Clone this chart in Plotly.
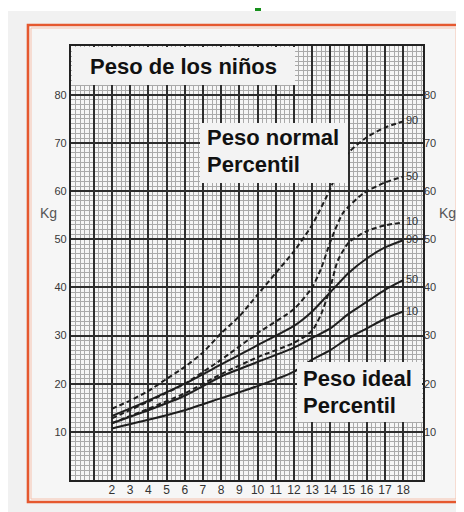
import plotly.graph_objects as go

# ---------------- data ----------------
x_tick_vals = list(range(1, 19))
x_tick_text = [""] + [str(v) for v in range(2, 19)]
y_tick_vals = [10, 20, 30, 40, 50, 60, 70, 80]
y_tick_text = [str(v) for v in y_tick_vals]

# "Peso normal" percentiles (dashed)
normal90_age = [2, 3, 4, 5, 6, 7, 8, 9, 10, 11, 12, 13, 14, 14.5, 15, 16, 17, 18]
normal90_kg = [14.8, 16.5, 18.5, 21, 23.5, 26.5, 30.5, 34, 38.5, 43, 47.5, 53, 60.5, 65, 68, 71.2, 73.2, 74.5]
normal50_age = [2, 4, 6, 8, 10, 12, 13, 13.5, 14, 14.7, 15.8, 17, 18]
normal50_kg = [12.8, 16.3, 20, 25, 30.5, 35.5, 40, 44, 49.5, 55.5, 59.5, 61.8, 63]
normal10_age = [2, 4, 6, 8, 10, 12, 13, 13.5, 14, 14.4, 15, 16, 17, 18]
normal10_kg = [11.8, 14.8, 18, 22, 25.5, 28.5, 31, 34.5, 40, 45.5, 49.3, 51.7, 52.9, 53.5]

# "Peso ideal" percentiles (solid)
ideal90_age = [2, 4, 6, 8, 10, 12, 13, 14, 15, 16, 17, 18]
ideal90_kg = [13.3, 16.5, 20, 24, 28, 32, 35, 39, 43, 46, 48.3, 49.8]
ideal50_age = [2, 4, 6, 8, 10, 12, 13, 14, 15, 16, 17, 18]
ideal50_kg = [11.8, 14.5, 17.5, 21.5, 24.5, 27.5, 29.5, 31.5, 34.5, 37, 39.5, 41.5]
ideal10_age = [2, 4, 6, 8, 10, 12, 13, 14, 15, 16, 17, 18]
ideal10_kg = [10.7, 12.5, 14.5, 17, 19.5, 22.5, 25, 27, 29.5, 31.5, 33.5, 35]

series = [
    ("90", normal90_age, normal90_kg, "dash"),
    ("50", normal50_age, normal50_kg, "dash"),
    ("10", normal10_age, normal10_kg, "dash"),
    ("90", ideal90_age, ideal90_kg, "solid"),
    ("50", ideal50_age, ideal50_kg, "solid"),
    ("10", ideal10_age, ideal10_kg, "solid"),
]

# ---------------- layout helpers ----------------
OFF = 8  # page body margin
W, H = 464 - OFF, 512 - OFF
PL, PR, PT, PB = 71, 423, 46, 480  # plot area in window pixels


def px(xp):
    return (xp - PL) / (PR - PL)


def py(yp):
    return (PB - yp) / (PB - PT)


fig = go.Figure()
for name, ages, kgs, dash in series:
    fig.add_trace(go.Scatter(
        x=ages, y=kgs, mode="lines", name=name,
        line=dict(color="#1e1e1e", width=2.0,
                  dash="5px,3px" if dash == "dash" else "solid",
                  shape="spline", smoothing=0.6),
        hoverinfo="skip", showlegend=False,
    ))
    fig.add_annotation(x=ages[-1], y=kgs[-1], text=name, showarrow=False,
                       xanchor="left", xshift=1, yshift=1,
                       font=dict(family="Liberation Sans, Arial", size=11, color="#333"))

# dummy trace for right axis
fig.add_trace(go.Scatter(x=[None], y=[None], yaxis="y2", showlegend=False, hoverinfo="skip"))

axis_font = dict(family="Liberation Sans, Arial", size=11, color="#383838")

fig.update_layout(
    width=W, height=H,
    margin=dict(l=PL - OFF, r=W - (PR - OFF), t=PT - OFF, b=H - (PB - OFF), pad=0),
    paper_bgcolor="#ffffff",
    plot_bgcolor="#d6d6d6",
    xaxis=dict(range=[-0.25, 19.09], tickvals=x_tick_vals, ticktext=x_tick_text,
               showgrid=True, gridcolor="#2e2e2e", gridwidth=1.6,
               minor=dict(dtick=0.25, tick0=0, showgrid=True, gridcolor="#aaaaaa", gridwidth=0.7),
               zeroline=False, showline=True, linecolor="#222", linewidth=2.2, mirror=True,
               ticks="", ticklabelstandoff=-3,
               tickfont=dict(family="Liberation Sans, Arial", size=12, color="#333"),
               fixedrange=True),
    yaxis=dict(range=[0, 90.15], tickvals=y_tick_vals, ticktext=y_tick_text,
               showgrid=True, gridcolor="#2e2e2e", gridwidth=1.6,
               minor=dict(dtick=1, tick0=0, showgrid=True, gridcolor="#aaaaaa", gridwidth=0.7),
               zeroline=False, showline=True, linecolor="#222", linewidth=2.2, mirror=True,
               ticks="", tickfont=axis_font, fixedrange=True),
    yaxis2=dict(range=[0, 90.15], tickvals=y_tick_vals, ticktext=y_tick_text,
                overlaying="y", side="right", showgrid=False, zeroline=False,
                ticks="", tickfont=axis_font, fixedrange=True),
)

shapes = []
# outer light gray scan area
shapes.append(dict(type="rect", xref="paper", yref="paper", layer="below",
                   x0=px(7), x1=px(470), y0=py(11), y1=py(520),
                   fillcolor="#f1f1f1", line=dict(width=0)))
# inner area
shapes.append(dict(type="rect", xref="paper", yref="paper", layer="below",
                   x0=px(29), x1=px(458), y0=py(26), y1=py(501),
                   fillcolor="#f6f6f6", line=dict(width=0)))
# orange frame
shapes.append(dict(type="rect", xref="paper", yref="paper", layer="below",
                   x0=px(28), x1=px(459), y0=py(25), y1=py(502),
                   fillcolor="rgba(0,0,0,0)", line=dict(color="#e5582f", width=2.6)))
shapes.append(dict(type="rect", xref="paper", yref="paper", layer="below",
                   x0=px(31), x1=px(456), y0=py(28), y1=py(499),
                   fillcolor="rgba(0,0,0,0)", line=dict(color="#f6c2ae", width=1)))
# green mark at the top
shapes.append(dict(type="rect", xref="paper", yref="paper", layer="below",
                   x0=px(255), x1=px(261), y0=py(0), y1=py(11),
                   fillcolor="#17901c", line=dict(width=0)))
# white label boxes over the grid
for (x0, x1, y0, y1) in [(72, 295, 47, 85), (200, 348, 123, 183), (297, 422, 362, 422)]:
    shapes.append(dict(type="rect", xref="paper", yref="paper", layer="above",
                       x0=px(x0), x1=px(x1), y0=py(y0), y1=py(y1),
                       fillcolor="#f3f3f3", line=dict(width=0)))
fig.update_layout(shapes=shapes)

title_font = dict(family="Liberation Sans, Arial", size=22, color="#111")
box_font = dict(family="Liberation Sans, Arial", size=22, color="#111")
texts = [
    ("<b>Peso de los niños</b>", 88, 66, title_font),
    ("<b>Peso normal</b>", 205, 137, box_font),
    ("<b>Percentil</b>", 205, 164, box_font),
    ("<b>Peso ideal</b>", 301, 378, box_font),
    ("<b>Percentil</b>", 301, 405, box_font),
]
for t, xp, yp, f in texts:
    fig.add_annotation(xref="paper", yref="paper", x=px(xp), y=py(yp), text=t,
                       showarrow=False, xanchor="left", yanchor="middle", font=f)

kg_font = dict(family="Liberation Sans, Arial", size=14, color="#555")
fig.add_annotation(xref="paper", yref="paper", x=px(38), y=py(213), text="Kg",
                   showarrow=False, xanchor="left", yanchor="middle", font=kg_font)
fig.add_annotation(xref="paper", yref="paper", x=px(437), y=py(213), text="Kg",
                   showarrow=False, xanchor="left", yanchor="middle", font=kg_font)

fig.write_html("out.html")
